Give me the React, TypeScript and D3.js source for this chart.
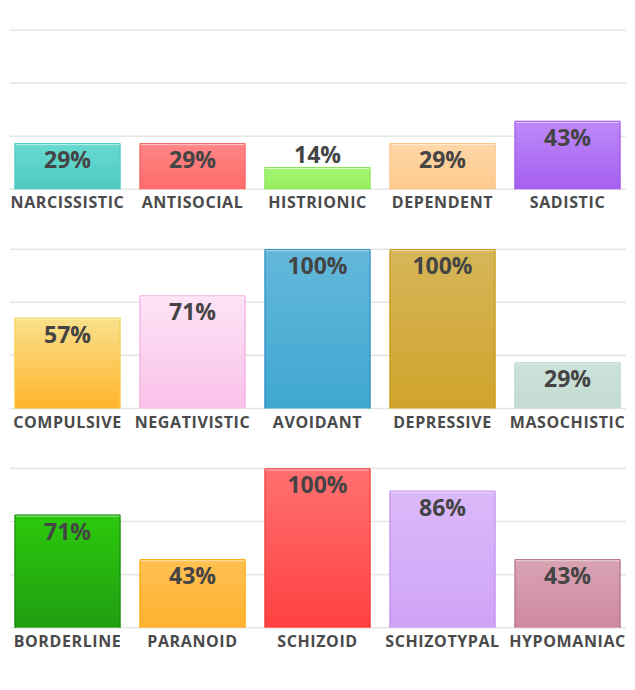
import React from "react";
import * as d3 from "d3";

const row1Categories = ["NARCISSISTIC", "ANTISOCIAL", "HISTRIONIC", "DEPENDENT", "SADISTIC"];
const row1Values = [29, 29, 14, 29, 43];
const row2Categories = ["COMPULSIVE", "NEGATIVISTIC", "AVOIDANT", "DEPRESSIVE", "MASOCHISTIC"];
const row2Values = [57, 71, 100, 100, 29];
const row3Categories = ["BORDERLINE", "PARANOID", "SCHIZOID", "SCHIZOTYPAL", "HYPOMANIAC"];
const row3Values = [71, 43, 100, 86, 43];

const row1Colors = [
  ["#68dad0", "#4ecac2", "#4ecdc4"],
  ["#ff8686", "#ff6a6a", "#f56464"],
  ["#a2f672", "#95ee5f", "#8de458"],
  ["#ffd7a7", "#fdca8e", "#fbc384"],
  ["#be8af9", "#a65ff0", "#a058ec"],
];
const row2Colors = [
  ["#f9e18c", "#ffb42c", "#f5cf48"],
  ["#fde3f6", "#fac2ea", "#f3a6db"],
  ["#64b8db", "#3fa7d0", "#2a8bbf"],
  ["#d6b658", "#d0a42d", "#c8970c"],
  ["#cae2d9", "#c5dcd2", "#b8d5c9"],
];
const row3Colors = [
  ["#2cc90e", "#209e10", "#1c8412"],
  ["#ffc152", "#ffb12f", "#ffa800"],
  ["#ff7070", "#ff4040", "#f03a3a"],
  ["#dbb9f9", "#cfa3f6", "#c389f1"],
  ["#d8a3b2", "#ce899f", "#b26e84"],
];

const rows = [
  { cats: row1Categories, vals: row1Values, colors: row1Colors },
  { cats: row2Categories, vals: row2Values, colors: row2Colors },
  { cats: row3Categories, vals: row3Values, colors: row3Colors },
];

const gridTicks = [0, 100 / 3, 200 / 3, 100];

export default function App() {
  const W = 635;
  const H = 690;
  const rowTop0 = 30;
  const rowStep = 219.2;
  const plotH = 159.3;
  const x = d3
    .scaleBand<string>()
    .domain(d3.range(5).map(String))
    .range([5, 630])
    .paddingInner(0.152)
    .paddingOuter(0.076);

  return (
    <svg width={W} height={H} style={{ position: "absolute", left: 0, top: 0 }}>
      <defs>
        {rows.map((r, ri) =>
          r.colors.map((c, ci) => (
            <linearGradient key={`g${ri}${ci}`} id={`g${ri}-${ci}`} x1="0" y1="0" x2="0" y2="1">
              <stop offset="0%" stopColor={c[0]} />
              <stop offset="100%" stopColor={c[1]} />
            </linearGradient>
          ))
        )}
      </defs>
      <rect width={W} height={H} fill="#fff" />
      {rows.map((r, ri) => {
        const top = rowTop0 + ri * rowStep;
        const y = d3.scaleLinear().domain([0, 100]).range([top + plotH, top]);
        const base = y(0);
        return (
          <g key={ri}>
            {gridTicks.map((t, ti) => (
              <line
                key={ti}
                x1={10}
                x2={626}
                y1={y(t)}
                y2={y(t)}
                stroke="#e6e6e6"
                strokeWidth={1.6}
              />
            ))}
            {r.cats.map((cat, ci) => {
              const v = r.vals[ci];
              const x0 = x(String(ci))!;
              const bw = x.bandwidth();
              const yt = y(v);
              const h = base - yt;
              const c = r.colors[ci];
              const inside = h > 30;
              return (
                <g key={cat}>
                  <rect x={x0} y={yt} width={bw} height={h} fill={`url(#g${ri}-${ci})`} />
                  <path
                    d={`M${x0 + 0.5},${base} V${yt + 0.5} H${x0 + bw - 0.5} V${base}`}
                    fill="none"
                    stroke={c[2]}
                    strokeWidth={1}
                  />
                  <line
                    x1={x0 + 1}
                    x2={x0 + bw - 1}
                    y1={yt + 1.5}
                    y2={yt + 1.5}
                    stroke="#ffffff"
                    strokeOpacity={0.55}
                    strokeWidth={1}
                  />
                  <text
                    x={x0 + bw / 2}
                    y={inside ? yt + 25 : yt - 4}
                    textAnchor="middle"
                    fontFamily="'Open Sans', sans-serif"
                    fontWeight={700}
                    fontSize={23}
                    fill="#444444"
                  >
                    {`${v}%`}
                  </text>
                  <text
                    x={x0 + bw / 2}
                    y={base + 19}
                    textAnchor="middle"
                    fontFamily="'Open Sans', sans-serif"
                    fontWeight={700}
                    fontSize={16}
                    letterSpacing={0.6}
                    fill="#4a4a4a"
                  >
                    {cat}
                  </text>
                </g>
              );
            })}
          </g>
        );
      })}
    </svg>
  );
}
